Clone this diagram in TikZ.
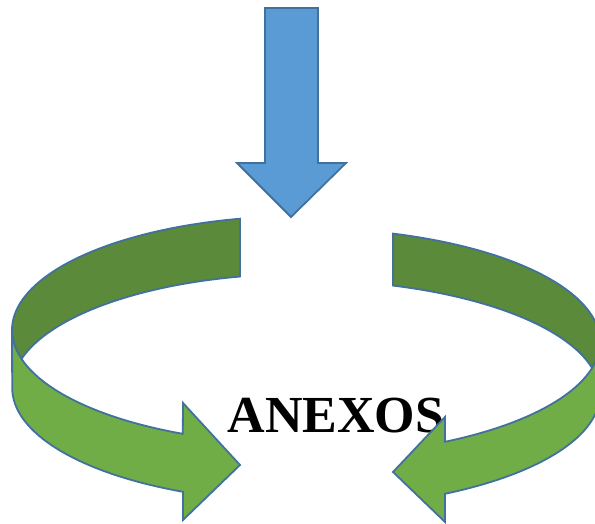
\documentclass[tikz,border=0pt]{standalone}
\usepackage{fontspec}
\setmainfont{Liberation Serif}
\definecolor{arrowline}{HTML}{41719C}
\definecolor{arrowblue}{HTML}{5B9BD5}
\definecolor{banddark}{HTML}{5A8A3A}
\definecolor{bandlight}{HTML}{70AD47}

\begin{document}
\begin{tikzpicture}[x=1pt, y=1pt,
downarrow/.style={draw=arrowline, fill=arrowblue, line width=1.8pt},
darkband/.style={draw=arrowline, fill=banddark, line width=1.8pt},
lightband/.style={draw=arrowline, fill=bandlight, line width=1.8pt},
titlenode/.style={font=\bfseries\fontsize{52}{52}\selectfont, inner sep=0pt},
]
\useasboundingbox (0,0) rectangle (595,524);
\clip (0,0) rectangle (595,524);

%Down arrow
\path[downarrow] (265,516) -- (318,516) -- (318,361) -- (346,361) -- (291,307) -- (237,361) -- (265,361) -- cycle;

%Title
\node[titlenode, anchor=base] (anexos) at (336,91) {ANEXOS};

%Left arrow
\path[darkband] (303,194) ++(102.5:291 and 114)
  arc[start angle=102.5, end angle=194.7, x radius=291, y radius=114]
  arc[start angle=165.3, end angle=102.5, x radius=291, y radius=114] -- cycle;
\path[lightband] (303,194) ++(180:291 and 114)
  arc[start angle=180, end angle=245.6, x radius=291, y radius=114]
  -- (183,121) -- (240,59) -- (183,4) -- (183,32.2)
  arc[start angle=245.6, end angle=180, x radius=291, y radius=114] -- cycle;

%Right arrow
\path[darkband] (300,182) ++(71.94:300 and 114)
  arc[start angle=71.94, end angle=-13.18, x radius=300, y radius=114]
  arc[start angle=13.18, end angle=71.94, x radius=300, y radius=114] -- cycle;
\path[lightband] (300,182) ++(0:300 and 114)
  arc[start angle=0, end angle=-61.1, x radius=300, y radius=114]
  -- (445,107) -- (393,52) -- (445,2) -- (445,30.2)
  arc[start angle=-61.1, end angle=0, x radius=300, y radius=114] -- cycle;

\end{tikzpicture}
\end{document}
